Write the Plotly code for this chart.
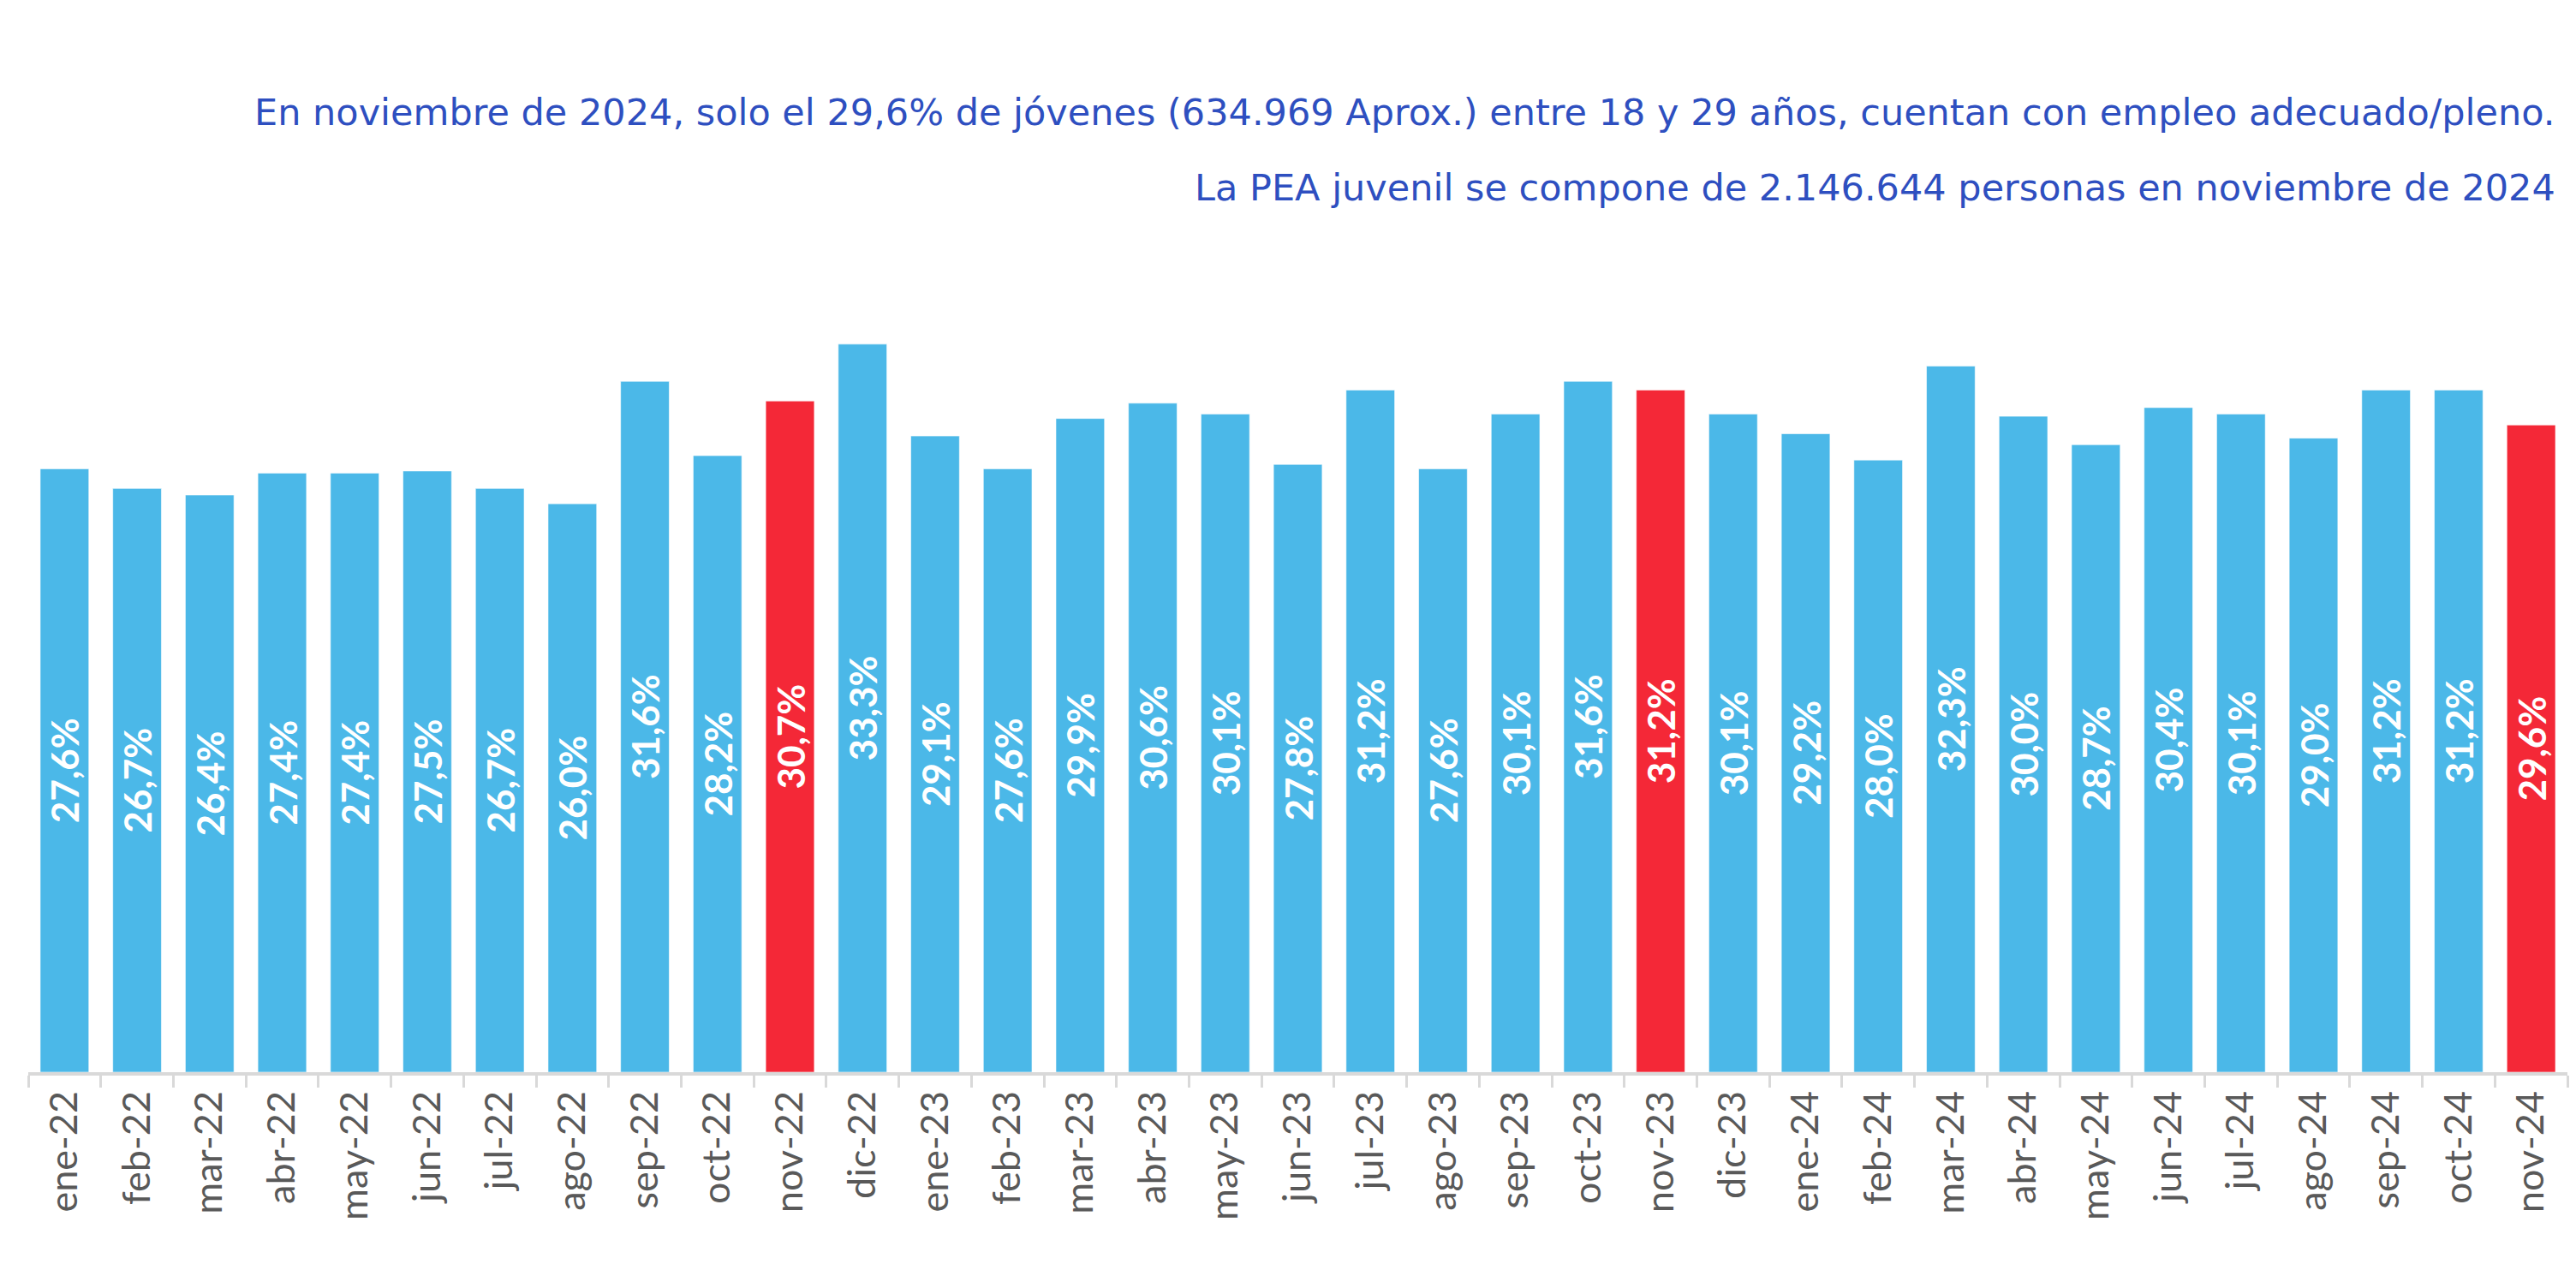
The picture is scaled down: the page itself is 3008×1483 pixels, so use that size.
import plotly.graph_objects as go

months = ["ene-22","feb-22","mar-22","abr-22","may-22","jun-22","jul-22","ago-22","sep-22","oct-22","nov-22","dic-22",
          "ene-23","feb-23","mar-23","abr-23","may-23","jun-23","jul-23","ago-23","sep-23","oct-23","nov-23","dic-23",
          "ene-24","feb-24","mar-24","abr-24","may-24","jun-24","jul-24","ago-24","sep-24","oct-24","nov-24"]
values = [27.6,26.7,26.4,27.4,27.4,27.5,26.7,26.0,31.6,28.2,30.7,33.3,
          29.1,27.6,29.9,30.6,30.1,27.8,31.2,27.6,30.1,31.6,31.2,30.1,
          29.2,28.0,32.3,30.0,28.7,30.4,30.1,29.0,31.2,31.2,29.6]
highlight = ["nov-22","nov-23","nov-24"]

title1 = "En noviembre de 2024, solo el 29,6% de jóvenes (634.969 Aprox.) entre 18 y 29 años, cuentan con empleo adecuado/pleno."
title2 = "La PEA juvenil se compone de 2.146.644 personas en noviembre de 2024"

BLUE = "#4bb8e8"
RED = "#f42837"
colors = [RED if m in highlight else BLUE for m in months]
labels = [f"{v:.1f}".replace(".", ",") + "%" for v in values]

fig = go.Figure(go.Bar(
    x=months, y=values, marker=dict(color=colors, line=dict(color="rgba(255,255,255,0.6)", width=1)),
    text=labels, textposition="inside", insidetextanchor="middle", textangle=-90,
    constraintext="none",
    textfont=dict(family="Lato", size=44, color="white", weight="bold"),
))

fig.update_layout(
    width=3000, height=1475,
    margin=dict(l=25, r=10, t=292, b=231),
    paper_bgcolor="white", plot_bgcolor="white",
    bargap=0.33, showlegend=False,
    xaxis=dict(type="category", showgrid=False, showline=True, linecolor="#d9d9d9", linewidth=4,
               ticks="outside", tickcolor="#d9d9d9", ticklen=14, tickwidth=3, tickson="boundaries",
               tickangle=-90, tickfont=dict(family="Lato", size=45, color="#595959")),
    yaxis=dict(range=[0, 37.29], visible=False, showgrid=False, zeroline=False),
    annotations=[
        dict(text=title1, xref="paper", yref="paper", x=0.996, y=1.177, xanchor="right", yanchor="middle",
             showarrow=False, font=dict(family="DejaVu Sans", size=43, color="#2e4fc0")),
        dict(text=title2, xref="paper", yref="paper", x=0.996, y=1.085, xanchor="right", yanchor="middle",
             showarrow=False, font=dict(family="DejaVu Sans", size=43, color="#2e4fc0")),
    ],
)

fig.write_html("out.html")
